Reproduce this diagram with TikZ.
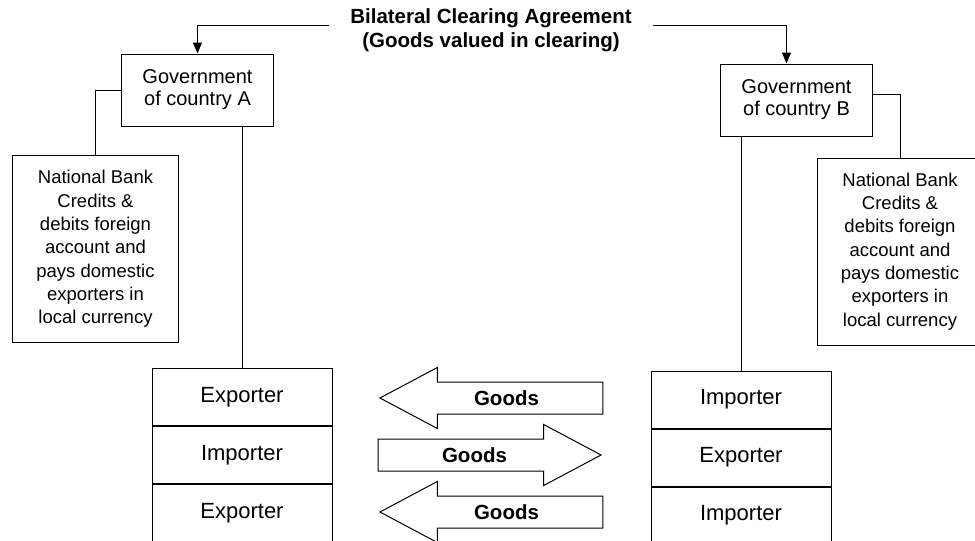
\documentclass[tikz,border=0pt]{standalone}
\usepackage{fontspec}
\setmainfont{Liberation Sans}
\usetikzlibrary{shapes.arrows,arrows.meta,positioning}

\begin{document}
\begin{tikzpicture}[x=1pt,y=-1pt,
  govbox/.style={rectangle,draw,line width=1pt,minimum width=152pt,minimum height=72pt,
                 align=center,font=\fontsize{20}{22}\selectfont},
  bankbox/.style={rectangle,draw,line width=1pt,minimum width=166pt,minimum height=187pt,
                  align=center,font=\fontsize{18.5}{23.3}\selectfont},
  row/.style={rectangle,draw,line width=1pt,minimum width=180pt,minimum height=57pt,
              font=\fontsize{22}{26}\selectfont},
  goods/.style={single arrow,draw,line width=1pt,minimum height=223pt,
                single arrow head extend=14.5pt,single arrow tip angle=56,
                inner ysep=8pt,text height=15pt,text depth=0pt,
                font=\fontsize{20.5}{24}\selectfont\bfseries},
  link/.style={line width=1pt}
]
\useasboundingbox (0,0) rectangle (975,541);

\node[font=\fontsize{20.5}{24}\selectfont\bfseries,align=center,inner xsep=21pt]
  (title) at (491,30) {Bilateral Clearing Agreement\\(Goods valued in clearing)};

% governments and banks
\node[govbox] (govA) at (197.5,90) {Government\\of country A};
\node[govbox] (govB) at (796.5,100) {Government\\of country B};
\node[bankbox] (bankA) at (95.5,249) {National Bank\\Credits \&\\debits foreign\\account and\\pays domestic\\exporters in\\local currency};
\node[bankbox] (bankB) at (900,251.5) {National Bank\\Credits \&\\debits foreign\\account and\\pays domestic\\exporters in\\local currency};

% traders
\node[row] (a1) at (242,397) {Exporter};
\node[row,below=0pt of a1] (a2) {Importer};
\node[row,below=0pt of a2] (a3) {Exporter};
\node[row] (b1) at (741,399.5) {Importer};
\node[row,below=0pt of b1] (b2) {Exporter};
\node[row,below=0pt of b2] (b3) {Importer};

% flows of goods
\node[goods,shape border rotate=180] (g1) at (506.5,398) {Goods};
\node[goods] (g2) at (474.5,455) {Goods};
\node[goods,shape border rotate=180] (g3) at (506.5,512) {Goods};

\draw[link,-{Triangle[width=9pt,length=11pt]}] ([yshift=5pt]title.west) -| (govA.north);
\draw[link,-{Triangle[width=9pt,length=11pt]}] ([yshift=5pt]title.east) -| ([xshift=-10pt]govB.north);
\draw[link] (govA.west) -| (bankA.north);
\draw[link] ([yshift=6pt]govB.east) -| (bankB.north);
\draw[link] (a1.north |- govA.south) -- (a1.north);
\draw[link] (b1.north |- govB.south) -- (b1.north);
\end{tikzpicture}
\end{document}
